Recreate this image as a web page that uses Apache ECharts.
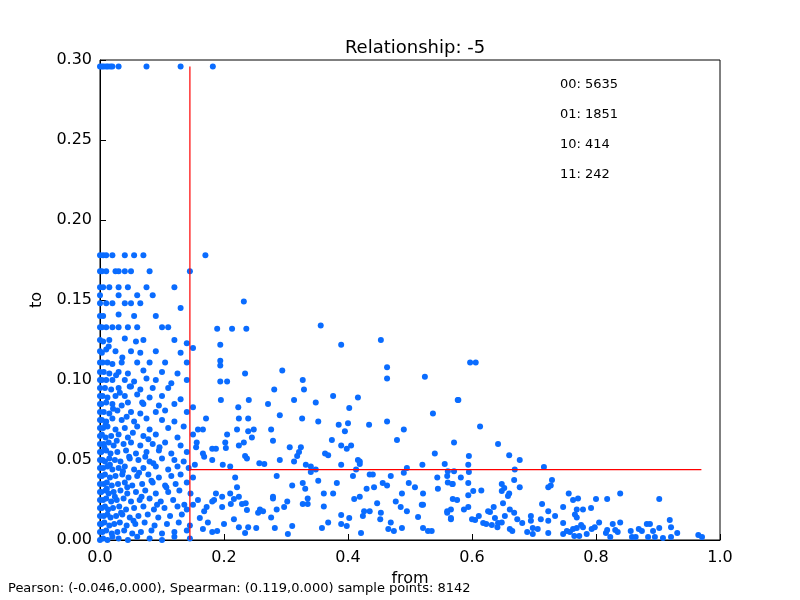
<!DOCTYPE html>
<html>
<head>
<meta charset="utf-8">
<script src="https://cdn.jsdelivr.net/npm/echarts@6/dist/echarts.min.js"></script>
<style>body{margin:0}#chart{width:800px;height:600px}</style>
</head>
<body>
<div id="chart"></div>
<script>
// points, [from, to]
var pointsLeft = [
[0,.296],[.003,.296],[.006,.296],[.01,.296],[.013,.296],[.017,.296],[.02,.296],[.03,.296],[.075,.296],[.13,.296],[.182,.296],
[0,.178],[.005,.178],[.01,.178],[.02,.178],[.04,.178],[.055,.178],[.07,.178],[.17,.178],
[0,.168],[.003,.168],[.01,.168],[.025,.168],[.03,.168],[.04,.168],[.05,.168],[.08,.168],[.145,.168],
[0,.158],[.005,.158],[.015,.158],[.03,.158],[.045,.158],[.075,.158],[.12,.158],
[0,.153],[.03,.153],[.06,.153],[.085,.153],
[0,.148],[.01,.148],[.02,.148],[.04,.148],[.05,.148],[.065,.148],[.13,.145],
[0,.14],[.005,.14],[.03,.141],[.055,.14],[.09,.14],
[0,.133],[.003,.133],[.01,.133],[.02,.133],[.03,.133],[.045,.133],[.06,.133],[.1,.133],[.11,.133],
[0,.125],[.005,.124],[.015,.125],[.04,.126],[.07,.125],[.12,.125],[.14,.123],
[0,.118],[.003,.117],[.01,.119],[.025,.118],[.05,.118],[.065,.117],[.09,.118],[.13,.117],[.15,.12],
[0,.111],[.004,.111],[.012,.111],[.02,.11],[.035,.111],[.06,.111],[.08,.111],[.105,.111],[.14,.111],
[0,.105],[.006,.105],[.015,.104],[.03,.105],[.045,.104],[.07,.106],[.1,.105],[.125,.104],
[0,.1],[.003,.1],[.01,.1],[.02,.1],[.04,.1],[.055,.099],[.075,.101],[.09,.1],[.115,.098],[.14,.1],
[0,.095],[.008,.095],[.018,.094],[.03,.095],[.05,.096],[.065,.094],[.085,.095],[.11,.095],
[0,.09],[.004,.09],[.012,.089],[.025,.09],[.04,.09],[.06,.091],[.08,.089],[.1,.09],[.13,.088],
[0,.085],[.002,.085],[.01,.086],[.02,.085],[.035,.084],[.045,.086],[.07,.085],[.095,.084],[.12,.085],[.15,.083],
[0,.08],[.006,.08],[.015,.079],[.028,.081],[.05,.08],[.065,.079],[.09,.08],[.105,.081],[.14,.08],
[0,.075],[.003,.075],[.01,.074],[.02,.076],[.035,.075],[.055,.074],[.075,.076],[.1,.075],[.12,.074],
[0,.07],[.005,.07],[.012,.071],[.025,.069],[.04,.07],[.06,.071],[.08,.069],[.11,.07],[.135,.071],
[0,.065],[.003,.066],[.009,.064],[.018,.065],[.03,.066],[.045,.064],[.07,.065],[.09,.066],[.125,.064],[.15,.066],
[0,.06],[.006,.06],[.014,.061],[.022,.059],[.038,.06],[.05,.061],[.065,.059],[.085,.06],[.105,.061],[.13,.059],
[0,.055],[.002,.055],[.01,.056],[.017,.054],[.028,.055],[.042,.056],[.058,.054],[.075,.055],[.095,.056],[.115,.054],[.14,.055],
[0,.05],[.004,.05],[.008,.049],[.015,.051],[.024,.05],[.033,.049],[.048,.051],[.062,.05],[.08,.049],[.1,.051],[.12,.05],[.135,.049],
[0,.045],[.005,.045],[.012,.046],[.02,.044],[.03,.045],[.04,.046],[.055,.044],[.07,.045],[.09,.046],[.11,.044],[.125,.046],[.143,.045],
[0,.04],[.003,.04],[.008,.041],[.016,.039],[.025,.04],[.036,.041],[.046,.039],[.06,.04],[.078,.041],[.095,.039],[.115,.04],[.13,.041],[.15,.039],
[0,.035],[.006,.035],[.011,.036],[.019,.034],[.029,.035],[.04,.036],[.052,.034],[.068,.035],[.085,.036],[.105,.034],[.122,.035],[.14,.036],
[0,.03],[.002,.03],[.009,.031],[.014,.029],[.022,.03],[.033,.031],[.044,.029],[.058,.03],[.073,.031],[.09,.029],[.11,.03],[.128,.031],[.146,.029],
[0,.025],[.005,.025],[.01,.026],[.018,.024],[.027,.025],[.038,.026],[.05,.024],[.064,.025],[.08,.026],[.098,.024],[.118,.025],[.136,.022],[.15,.022],
[0,.02],[.003,.02],[.008,.021],[.013,.019],[.021,.02],[.031,.021],[.042,.019],[.055,.02],[.07,.021],[.087,.019],[.104,.02],[.125,.021],[.14,.019],
[0,.015],[.006,.015],[.012,.016],[.017,.014],[.026,.015],[.036,.016],[.048,.014],[.062,.015],[.077,.016],[.094,.014],[.113,.015],[.132,.016],
[0,.01],[.002,.01],[.007,.011],[.015,.009],[.023,.01],[.032,.011],[.043,.009],[.057,.01],[.072,.011],[.088,.009],[.108,.01],[.127,.011],[.145,.009],
[0,.005],[.004,.005],[.01,.006],[.019,.004],[.028,.005],[.039,.006],[.052,.004],[.066,.005],[.083,.006],[.1,.004],[.12,.005],[.14,.006],
[0,0],[.005,.001],[.012,0],[.02,.002],[.03,.001],[.045,0],[.06,.002],[.08,.001],[.1,0],[.12,.002],[.145,.001],
[.007,.058],[.016,.047],[.027,.062],[.037,.043],[.047,.052],[.011,.032],[.024,.027],[.034,.017],[.044,.033],[.054,.012],
[.009,.072],[.021,.082],[.032,.092],[.043,.077],[.053,.067],[.063,.042],[.067,.027],[.073,.052],[.083,.037],[.092,.022],
[.014,.121],[.026,.103],[.036,.114],[.048,.096],[.058,.124],[.068,.086],[.078,.063],[.086,.048],[.096,.058],[.107,.033]
];

var pointsRight = [
[.232,.149],[.189,.132],[.213,.132],[.236,.132],[.356,.134],[.389,.122],[.453,.125],[.463,.108],[.463,.101],[.524,.102],
[.294,.106],[.327,.1],[.329,.094],[.281,.094],[.234,.104],[.194,.122],[.194,.112],[.194,.109],[.194,.099],[.205,.099],
[.195,.0875],[.24,.0875],[.271,.085],[.313,.0875],[.348,.086],[.376,.09],[.416,.089],[.402,.0825],[.29,.078],[.326,.076],
[.223,.083],[.224,.076],[.239,.076],[.171,.076],[.158,.069],[.166,.069],[.205,.066],[.221,.069],[.239,.068],[.248,.069],
[.245,.064],[.276,.069],[.279,.062],[.352,.074],[.385,.072],[.4,.073],[.395,.068],[.434,.072],[.463,.074],[.49,.069],
[.479,.0625],[.537,.079],[.571,.061],[.54,.054],[.577,.0875],[.374,.0625],[.389,.059],[.405,.059],[.398,.057],[.306,.058],
[.324,.058],[.321,.055],[.318,.0525],[.313,.049],[.29,.05],[.257,.048],[.265,.0475],[.232,.061],[.224,.059],[.202,.061],
[.203,.0575],[.181,.057],[.187,.057],[.166,.054],[.168,.052],[.181,.05],[.198,.047],[.21,.046],[.234,.0525],[.237,.051],
[.153,.047],[.156,.061],[.155,.058],[.332,.047],[.34,.046],[.363,.054],[.368,.053],[.389,.047],[.416,.05],[.419,.049],
[.413,.044],[.419,.0475],[.495,.045],[.52,.047],[.556,.0475],
[.218,.039],[.285,.04],[.34,.0425],[.348,.044],[.408,.04],[.435,.041],[.44,.041],[.469,.04],[.49,.042],[.498,.0356],
[.544,.039],[.561,.036],[.569,.035],[.545,.032],[.521,.029],[.508,.033],[.487,.029],[.463,.034],[.456,.0356],[.442,.033],
[.43,.032],[.419,.027],[.41,.0256],[.382,.0356],[.376,.029],[.361,.029],[.352,.037],[.331,.032],[.327,.0356],[.335,.026],
[.327,.0225],[.335,.0225],[.361,.021],[.31,.034],[.302,.024],[.297,.0206],[.285,.019],[.279,.027],[.279,.026],[.258,.019],
[.263,.018],[.255,.017],[.237,.0187],[.235,.023],[.229,.0225],[.224,.027],[.221,.033],[.216,.0256],[.21,.029],[.197,.027],
[.187,.029],[.184,.025],[.181,.024],[.197,.0206],[.211,.0225],[.216,.013],[.224,.008],[.239,.008],[.234,.0044],[.252,.0075],
[.276,.014],[.282,.0075],[.303,.0037],[.31,.0087],[.189,.0056],[.181,.005],[.166,.0069],[.174,.011],[.161,.0137],[.168,.018],
[.172,.0206],[.158,.025],[.2,.01],[.358,.0075],[.368,.011],[.389,.0156],[.389,.01],[.398,.0087],[.402,.0137],[.421,.0044],
[.424,.015],[.435,.018],[.426,.018],[.447,.023],[.453,.017],[.452,.013],[.465,.0069],[.469,.011],[.474,.0056],[.487,.0075],
[.495,.018],[.485,.0206],[.477,.024],[.513,.0144],[.519,.022],[.521,.022],[.521,.0075],[.529,.0056],[.535,.0056],[.56,.018],
[.566,.013],[.566,.019],[.576,.025],[.56,.04],[.561,.043],
[.597,.111],[.606,.111],[.578,.0875],[.613,.071],[.642,.06],[.595,.0525],[.66,.053],[.677,.05],[.594,.047],[.595,.0425],
[.669,.044],[.716,.0456],[.571,.043],[.568,.035],[.582,.039],[.594,.0356],[.648,.035],[.652,.0325],[.648,.0306],[.668,.0375],
[.677,.033],[.615,.031],[.602,.0306],[.594,.028],[.569,.0256],[.66,.029],[.658,.0275],[.65,.023],[.729,.0375],[.723,.033],
[.727,.034],[.756,.029],[.763,.025],[.771,.026],[.8,.0256],[.818,.0256],[.839,.029],[.902,.0256],[.713,.0225],[.723,.018],
[.747,.0206],[.792,.02],[.779,.019],[.769,.019],[.766,.016],[.769,.014],[.734,.015],[.723,.012],[.711,.013],[.695,.015],
[.695,.012],[.681,.0106],[.673,.013],[.668,.017],[.661,.019],[.653,.015],[.637,.0137],[.635,.0206],[.629,.0175],[.626,.018],
[.611,.015],[.605,.0125],[.6,.013],[.594,.0206],[.587,.019],[.566,.0137],[.56,.017],[.618,.0106],[.623,.01],[.632,.0094],
[.641,.008],[.642,.0106],[.648,.011],[.661,.0069],[.665,.0056],[.689,.005],[.698,.0075],[.698,.0037],[.706,.0069],[.723,.0044],
[.747,.0106],[.747,.0037],[.753,.0056],[.758,.005],[.763,.0069],[.765,.0025],[.769,.0075],[.773,.0025],[.776,.0094],[.779,.008],
[.785,.0037],[.793,.0069],[.798,.008],[.805,.011],[.816,.0044],[.818,.0062],[.823,.0019],[.827,.01],[.831,.0062],[.835,.005],
[.839,.011],[.856,.0056],[.858,.0019],[.864,.0019],[.869,.0069],[.874,.0056],[.882,.01],[.887,.01],[.892,.0056],[.884,.0019],
[.895,.0019],[.902,.0075],[.908,.0012],[.919,.0125],[.921,.008],[.921,.0019],[.931,.0044],[.965,.0031],[.971,.0019]
];

var vLine = [[0.145, 0], [0.145, 0.296]];
var hLine = [[0.145, 0.044], [0.97, 0.044]];
var counts = ['00: 5635', '01: 1851', '10: 414', '11: 242'];
var footer = 'Pearson: (-0.046,0.000), Spearman: (0.119,0.000) sample points: 8142';

var chart = echarts.init(document.getElementById('chart'));

var font = 'DejaVu Sans';
var axisCommon = {
    axisLine: { lineStyle: { color: '#000' } },
    axisTick: { inside: true, length: 6, lineStyle: { color: '#000' } },
    splitLine: { show: false },
    axisLabel: { color: '#000', fontSize: 16, fontFamily: font }
};

var option = {
    animation: false,
    backgroundColor: '#fff',
    title: {
        text: 'Relationship: -5',
        left: 410, top: 34, textAlign: 'center',
        textStyle: { fontSize: 18, fontWeight: 'normal', fontFamily: font, color: '#000' }
    },
    grid: { left: 100, right: 80, top: 60, bottom: 60, show: true, borderColor: '#000', borderWidth: 1 },
    xAxis: Object.assign({}, axisCommon, {
        type: 'value', min: 0, max: 1, interval: 0.2,
        name: 'from', nameLocation: 'middle', nameGap: 30,
        nameTextStyle: { fontSize: 16, fontFamily: font, color: '#000' },
        axisLabel: Object.assign({}, axisCommon.axisLabel, { formatter: function (v) { return v.toFixed(1); }, margin: 10 })
    }),
    yAxis: Object.assign({}, axisCommon, {
        type: 'value', min: 0, max: 0.3, interval: 0.05,
        name: 'to', nameLocation: 'middle', nameGap: 55,
        nameTextStyle: { fontSize: 16, fontFamily: font, color: '#000' },
        axisLabel: Object.assign({}, axisCommon.axisLabel, { formatter: function (v) { return v.toFixed(2); }, margin: 8 })
    }),
    series: [
        { type: 'scatter', data: pointsLeft, symbolSize: 6, itemStyle: { color: '#0a6cff', opacity: 1 } },
        { type: 'scatter', data: pointsRight, symbolSize: 6, itemStyle: { color: '#0a6cff', opacity: 1 } },
        { type: 'line', data: vLine, symbol: 'none', z: 10, lineStyle: { color: '#ff0000', width: 1.2, opacity: 1 } },
        { type: 'line', data: hLine, symbol: 'none', z: 10, lineStyle: { color: '#ff0000', width: 1.2, opacity: 1 } }
    ],
    graphic: counts.map(function (t, i) {
        return { type: 'text', left: 560, top: 78 + i * 30, style: { text: t, fontSize: 13, fontFamily: font, fill: '#000' } };
    }).concat([
        { type: 'text', left: 8, top: 582, style: { text: footer, fontSize: 13, fontFamily: font, fill: '#000' } }
    ])
};

chart.setOption(option);
</script>
</body>
</html>
